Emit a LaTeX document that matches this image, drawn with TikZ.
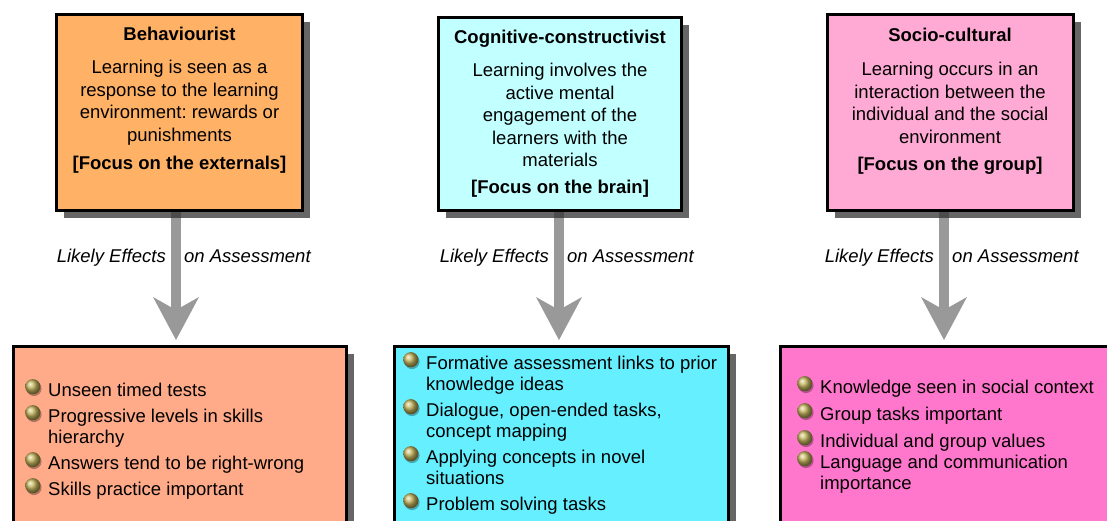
\documentclass[tikz,border=0pt]{standalone}
\usepackage{fontspec}
\setmainfont{Liberation Sans}
\frenchspacing
\usetikzlibrary{arrows.meta,shadows,backgrounds}
\definecolor{cta}{RGB}{255,178,102}
\definecolor{ctb}{RGB}{194,255,255}
\definecolor{ctc}{RGB}{255,170,212}
\definecolor{cba}{RGB}{255,170,136}
\definecolor{cbb}{RGB}{102,240,255}
\definecolor{cbc}{RGB}{255,119,204}
\definecolor{ballc}{RGB}{196,180,92}
\definecolor{shaftc}{RGB}{153,153,153}
\newcommand{\gball}{\makebox[23pt][l]{\smash{\tikz[baseline=-9.5pt]{\fill[black,opacity=.3] (1.2pt,-1.8pt) circle (7.6pt); \shade[ball color=ballc] (0pt,0pt) circle (7.6pt);}}}}
\tikzset{
  box/.style={draw=black, line width=3pt, rectangle, inner sep=0pt,
    drop shadow={shadow xshift=7pt, shadow yshift=-7pt, fill=black!80, opacity=.75}},
  ttl/.style={font=\fontsize{18.5}{22.5}\selectfont\bfseries, inner sep=0pt},
  bdy/.style={font=\fontsize{18.5}{22.5}\selectfont, align=center, inner sep=0pt},
  lst/.style={font=\fontsize{18.5}{21}\selectfont, inner sep=0pt, anchor=north west},
  lbl/.style={font=\fontsize{18.5}{22}\selectfont\itshape, inner sep=0pt},
  arr/.style={draw=shaftc, line width=10pt,
    -{Stealth[length=43pt,width=46pt,inset=13pt,line width=0pt]}, shorten >=5pt}
}
\begin{document}
\begin{tikzpicture}[x=1pt,y=-1pt]
\useasboundingbox (0,0) rectangle (1107,520);
\clip (0,0) rectangle (1107,520);
% top boxes
\node[box, fill=cta, minimum width=246pt, minimum height=196pt] (t1) at (179.5,112.5) {};
\node[box, fill=ctb, minimum width=243pt, minimum height=193pt] (t2) at (560,114) {};
\node[box, fill=ctc, minimum width=246pt, minimum height=196pt] (t3) at (950.5,112.5) {};
% bottom boxes
\node[box, fill=cba, minimum width=333pt, minimum height=200pt] (b1) at (180,446.5) {};
\node[box, fill=cbb, minimum width=334pt, minimum height=200pt] (b2) at (561.5,446.5) {};
\node[box, fill=cbc, minimum width=343pt, minimum height=200pt] (b3) at (952,446.5) {};
% top texts
\node[ttl, anchor=north] (t1h) at (179.5,27) {Behaviourist};
\node[bdy, anchor=north] (t1b) at (179.5,60) {Learning is seen as a\\response to the learning\\environment: rewards or\\punishments};
\node[ttl, anchor=north] (t1f) at (179.5,156) {[Focus on the externals]};
\node[ttl, anchor=north] (t2h) at (560,30) {Cognitive-constructivist};
\node[bdy, anchor=north] (t2b) at (560,63) {Learning involves the\\active mental\\engagement of the\\learners with the\\materials};
\node[ttl, anchor=north] (t2f) at (560,180) {[Focus on the brain]};
\node[ttl, anchor=north] (t3h) at (950,28) {Socio-cultural};
\node[bdy, anchor=north] (t3b) at (950,62) {Learning occurs in an\\interaction between the\\individual and the social\\environment};
\node[ttl, anchor=north] (t3f) at (950,157) {[Focus on the group]};
% bottom lists
\node[lst] (b1t) at (25,381.3) {\begin{tabular}{@{}l@{}l@{}}
\gball & Unseen timed tests\\[5pt]
\gball & Progressive levels in skills\\
 & hierarchy\\[5pt]
\gball & Answers tend to be right-wrong\\[5pt]
\gball & Skills practice important
\end{tabular}};
\node[lst] (b2t) at (403,354.3) {\begin{tabular}{@{}l@{}l@{}}
\gball & Formative assessment links to prior\\
 & knowledge ideas\\[5pt]
\gball & Dialogue, open-ended tasks,\\
 & concept mapping\\[5pt]
\gball & Applying concepts in novel\\
 & situations\\[5pt]
\gball & Problem solving tasks
\end{tabular}};
\node[lst] (b3t) at (797,378.3) {\begin{tabular}{@{}l@{}l@{}}
\gball & Knowledge seen in social context\\[6pt]
\gball & Group tasks important\\[6pt]
\gball & Individual and group values\\[0pt]
\gball & Language and communication\\
 & importance
\end{tabular}};
% arrow axes
\coordinate (a1) at (176,0);
\coordinate (a2) at (559,0);
\coordinate (a3) at (944,0);
% labels
\node[lbl, anchor=base east] (l1a) at (166,262.5) {Likely Effects};
\node[lbl, anchor=base west] (l1b) at (184,262.5) {on Assessment};
\node[lbl, anchor=base east] (l2a) at (549,262.5) {Likely Effects};
\node[lbl, anchor=base west] (l2b) at (567,262.5) {on Assessment};
\node[lbl, anchor=base east] (l3a) at (934,262.5) {Likely Effects};
\node[lbl, anchor=base west] (l3b) at (952,262.5) {on Assessment};
% arrows
\begin{scope}[on background layer]
\draw[arr] (t1.south -| a1) -- (b1.north -| a1);
\draw[arr] (t2.south -| a2) -- (b2.north -| a2);
\draw[arr] (t3.south -| a3) -- (b3.north -| a3);
\end{scope}
\end{tikzpicture}
\end{document}
